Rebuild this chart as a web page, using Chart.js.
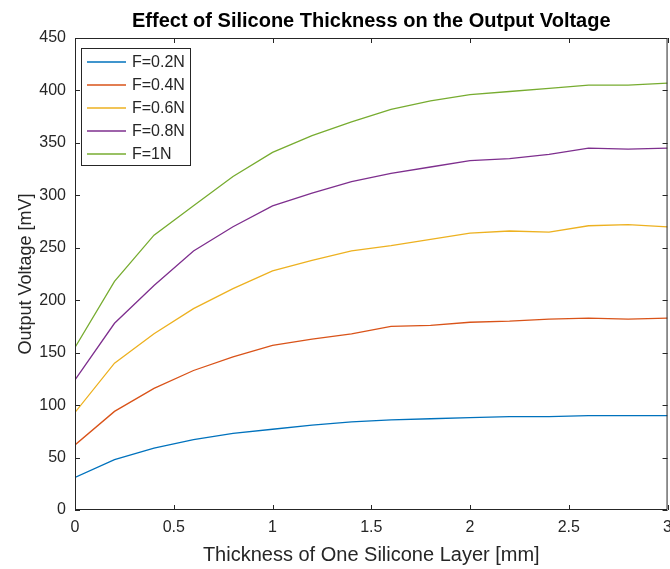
<!DOCTYPE html>
<html>
<head>
<meta charset="utf-8">
<script src="https://cdn.jsdelivr.net/npm/chart.js@4/dist/chart.umd.min.js"></script>
<style>
  html, body { margin: 0; padding: 0; background: #fff; overflow: hidden; }
  canvas { display: block; }
</style>
</head>
<body>
<canvas id="chart-voltage" width="680" height="569"></canvas>
<script>
// thickness of one silicone layer [mm]
const thickness = [0, 0.2, 0.4, 0.6, 0.8, 1.0, 1.2, 1.4, 1.6, 1.8, 2.0, 2.2, 2.4, 2.6, 2.8, 3.0];

// output voltage [mV] per applied force
const voltsF02 = [31, 48, 59, 67, 73, 77, 81, 84, 86, 87, 88, 89, 89, 90, 90, 90];
const voltsF04 = [62, 94, 116, 133, 146, 157, 163, 168, 175, 176, 179, 180, 182, 183, 182, 183];
const voltsF06 = [93, 140, 168, 192, 211, 228, 238, 247, 252, 258, 264, 266, 265, 271, 272, 270];
const voltsF08 = [124, 178, 214, 247, 270, 290, 302, 313, 321, 327, 333, 335, 339, 345, 344, 345];
const voltsF10 = [155, 218, 262, 290, 318, 341, 357, 370, 382, 390, 396, 399, 402, 405, 405, 407];

const seriesLabels = ["F=0.2N", "F=0.4N", "F=0.6N", "F=0.8N", "F=1N"];
const seriesColors = ["#0072BD", "#D95319", "#EDB120", "#7E2F8E", "#77AC30"];
const seriesValues = [voltsF02, voltsF04, voltsF06, voltsF08, voltsF10];

const axisColor = "#262626";
const fontFamily = "'Liberation Sans', Arial, Helvetica, sans-serif";

// matlab style box: frame + inward ticks on all four sides
const boxTicks = {
  id: "boxTicks",
  afterDraw(chart) {
    const { ctx, chartArea: a, scales: { x, y } } = chart;
    const len = 5;
    ctx.save();
    ctx.strokeStyle = axisColor;
    ctx.lineWidth = 1;
    ctx.beginPath();
    ctx.rect(a.left + 0.5, a.top + 0.5, a.right - a.left - 1, a.bottom - a.top - 1);
    x.ticks.forEach(t => {
      const px = Math.round(x.getPixelForValue(t.value)) + 0.5;
      ctx.moveTo(px, a.bottom); ctx.lineTo(px, a.bottom - len);
      ctx.moveTo(px, a.top); ctx.lineTo(px, a.top + len);
    });
    y.ticks.forEach(t => {
      const py = Math.round(y.getPixelForValue(t.value)) + 0.5;
      ctx.moveTo(a.left, py); ctx.lineTo(a.left + len, py);
      ctx.moveTo(a.right, py); ctx.lineTo(a.right - len, py);
    });
    ctx.stroke();
    ctx.restore();
  }
};

// legend box inside the upper left corner of the axes
const insideLegend = {
  id: "insideLegend",
  afterDraw(chart) {
    const { ctx, chartArea: a } = chart;
    const bx = a.left + 6, by = a.top + 10, bw = 109, bh = 117;
    ctx.save();
    ctx.fillStyle = "#fff";
    ctx.fillRect(bx, by, bw, bh);
    ctx.strokeStyle = axisColor;
    ctx.lineWidth = 1;
    ctx.strokeRect(bx + 0.5, by + 0.5, bw, bh);
    ctx.font = "16px " + fontFamily;
    ctx.textBaseline = "middle";
    chart.data.datasets.forEach((ds, i) => {
      const cy = by + 14 + i * 23;
      ctx.strokeStyle = ds.borderColor;
      ctx.lineWidth = 1.3;
      ctx.beginPath();
      ctx.moveTo(bx + 6, cy); ctx.lineTo(bx + 45, cy);
      ctx.stroke();
      ctx.fillStyle = axisColor;
      ctx.fillText(ds.label, bx + 51, cy + 1);
    });
    ctx.restore();
  }
};

let canvasVoltage = document.getElementById("chart-voltage").getContext("2d");

let voltageChart = new Chart(canvasVoltage, {
  type: "line",
  data: {
    datasets: seriesValues.map((vals, i) => ({
      label: seriesLabels[i],
      data: thickness.map((t, j) => ({ x: t, y: vals[j] })),
      borderColor: seriesColors[i],
      backgroundColor: seriesColors[i],
      borderWidth: 1.3,
      pointRadius: 0,
      fill: false,
      tension: 0
    }))
  },
  options: {
    responsive: false,
    animation: false,
    layout: { padding: { left: 0, right: 0, top: 0, bottom: 0 } },
    plugins: {
      legend: { display: false },
      tooltip: { enabled: false },
      title: {
        display: true,
        fullSize: false,
        text: "Effect of Silicone Thickness on the Output Voltage",
        color: "#000",
        font: { family: fontFamily, size: 20, weight: "bold", lineHeight: 1.2 },
        padding: { top: 9, bottom: 5 }
      }
    },
    scales: {
      x: {
        type: "linear",
        min: 0, max: 3,
        afterFit: s => { s.height = 59; },
        grid: { display: false, drawTicks: false },
        border: { display: false },
        ticks: {
          stepSize: 0.5,
          padding: 8,
          color: axisColor,
          maxRotation: 0,
          callback: v => String(v),
          font: { family: fontFamily, size: 16 }
        },
        title: {
          display: true,
          text: "Thickness of One Silicone Layer [mm]",
          color: axisColor,
          font: { family: fontFamily, size: 20 },
          padding: { top: 0, bottom: 2 }
        }
      },
      y: {
        min: 0, max: 450,
        afterFit: s => { s.width = 75; },
        grid: { display: false, drawTicks: false },
        border: { display: false },
        ticks: {
          stepSize: 50,
          padding: 9,
          color: axisColor,
          font: { family: fontFamily, size: 16 }
        },
        title: {
          display: true,
          text: "Output Voltage [mV]",
          color: axisColor,
          font: { family: fontFamily, size: 18 },
          padding: { top: 15, bottom: 0 }
        }
      }
    }
  },
  plugins: [boxTicks, insideLegend]
});
</script>
</body>
</html>
